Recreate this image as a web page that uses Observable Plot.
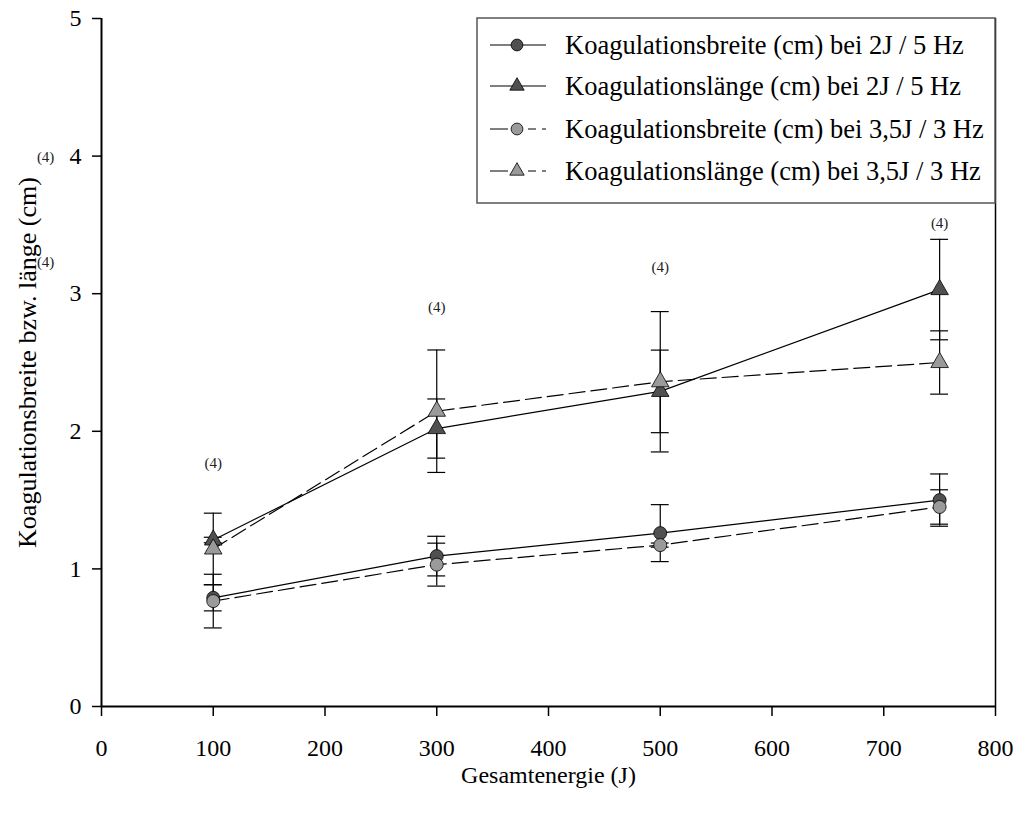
<!DOCTYPE html>
<html>
<head>
<meta charset="utf-8">
<script src="https://cdn.jsdelivr.net/npm/d3@7"></script>
<script src="https://cdn.jsdelivr.net/npm/@observablehq/plot@0.6"></script>
<style>
  html, body { margin: 0; padding: 0; background: #fff; }
  #chart { position: relative; width: 1018px; height: 819px; }
  #chart svg text { font-family: "Liberation Serif", "Times New Roman", serif; }
</style>
</head>
<body>
<div id="chart"></div>
<script>
// ---- data ----
const energies = [100, 300, 500, 750];
const breite2J = [0.79, 1.093, 1.26, 1.50];
const breite2J_err = [0.095, 0.144, 0.207, 0.19];
const laenge2J = [1.21, 2.02, 2.29, 3.03];
const laenge2J_err = [0.02, 0.215, 0.30, 0.365];
const breite35J = [0.766, 1.031, 1.173, 1.45];
const breite35J_err = [0.195, 0.156, 0.015, 0.125];
const laenge35J = [1.145, 2.146, 2.36, 2.50];
const laenge35J_err = [0.26, 0.445, 0.51, 0.23];

const seriesNames = [
  "Koagulationsbreite (cm) bei 2J / 5 Hz",
  "Koagulationslänge (cm) bei 2J / 5 Hz",
  "Koagulationsbreite (cm) bei 3,5J / 3 Hz",
  "Koagulationslänge (cm) bei 3,5J / 3 Hz"
];
const xTicks = [0, 100, 200, 300, 400, 500, 600, 700, 800];
const yTicks = [0, 1, 2, 3, 4, 5];
const nLabels = ["(4)", "(4)", "(4)", "(4)", "(4)", "(4)"];
const nLabelX = [100, 300, 500, 750, -50, -50];
const nLabelY = [1.77, 2.90, 3.19, 3.51, 3.99, 3.23];
const xLabel = "Gesamtenergie (J)";
const yLabel = "Koagulationsbreite bzw. länge (cm)";

// ---- styles per series ----
const seriesStyle = [
  {fill: "#505050", symbol: "circle", dash: null},
  {fill: "#505050", symbol: "triangle", dash: null},
  {fill: "#9a9a9a", symbol: "circle", dash: "16,6"},
  {fill: "#9a9a9a", symbol: "triangle", dash: "16,6"}
];
const values = [breite2J, laenge2J, breite35J, laenge35J];
const errs = [breite2J_err, laenge2J_err, breite35J_err, laenge35J_err];

const rows = [];
values.forEach((vals, s) => vals.forEach((v, i) => rows.push({
  s, x: energies[i], y: v, lo: v - errs[s][i], hi: v + errs[s][i]
})));
const labels = nLabels.map((t, i) => ({t, x: nLabelX[i], y: nLabelY[i]}));
const CAP = 8; // half cap width in J

const font = '"Liberation Serif", "Times New Roman", serif';
const marks = [
  Plot.axisX({ticks: xTicks, tickSize: 10, tickPadding: 22, tickFormat: d3.format("d"), label: null, stroke: "#000", strokeWidth: 1.5}),
  Plot.axisY({ticks: yTicks, tickSize: 9, tickPadding: 11, tickFormat: d3.format("d"), label: null, stroke: "#000", strokeWidth: 1.5}),
  Plot.ruleY([0], {stroke: "#000", strokeWidth: 2}),
  Plot.ruleX([0], {stroke: "#000", strokeWidth: 2}),
  Plot.ruleX([800], {stroke: "#000", strokeWidth: 1.5})
];
seriesStyle.forEach((st, s) => {
  const d = rows.filter(r => r.s === s);
  marks.push(Plot.line(d, {x: "x", y: "y", stroke: "#000", strokeWidth: 1.2, strokeDasharray: st.dash}));
});
seriesStyle.forEach((st, s) => {
  const d = rows.filter(r => r.s === s);
  marks.push(Plot.ruleX(d, {x: "x", y1: "lo", y2: "hi", stroke: "#000", strokeWidth: 1.2}));
  marks.push(Plot.ruleY(d, {y: "lo", x1: r => r.x - CAP, x2: r => r.x + CAP, stroke: "#000", strokeWidth: 1.2}));
  marks.push(Plot.ruleY(d, {y: "hi", x1: r => r.x - CAP, x2: r => r.x + CAP, stroke: "#000", strokeWidth: 1.2}));
});
seriesStyle.forEach((st, s) => {
  const d = rows.filter(r => r.s === s);
  marks.push(Plot.dot(d, {x: "x", y: "y", symbol: st.symbol, r: 6.5, fill: st.fill, stroke: "#000", strokeWidth: 0.8}));
});
marks.push(Plot.text(labels, {x: "x", y: "y", text: "t", fontSize: 15, fill: "#222", clip: false}));
marks.push(Plot.text([xLabel], {frameAnchor: "bottom", textAnchor: "middle", dy: 76, fontSize: 24, fill: "#000"}));
marks.push(Plot.text([yLabel], {frameAnchor: "left", textAnchor: "middle", dx: -74, rotate: -90, fontSize: 26, fill: "#000"}));

const chart = Plot.plot({
  width: 1018,
  height: 819,
  marginLeft: 101,
  marginRight: 23,
  marginTop: 18,
  marginBottom: 113,
  x: {domain: [0, 800]},
  y: {domain: [0, 5]},
  style: {fontFamily: font, fontSize: "20px", background: "#fff", color: "#000", overflow: "visible"},
  marks
});
document.getElementById("chart").appendChild(chart);

const svg = d3.select(chart);
svg.selectAll('g[aria-label="x-axis tick label"], g[aria-label="y-axis tick label"]')
  .attr("font-size", 24);

// ---- legend (drawn inside the svg) ----
const lg = svg.append("g").attr("text-anchor", "start");
lg.append("rect").attr("x", 477).attr("y", 18).attr("width", 518).attr("height", 185)
  .attr("fill", "#fff").attr("stroke", "#555").attr("stroke-width", 1.5);
const rowY = [45, 86, 129, 171];
seriesNames.forEach((name, i) => {
  const st = seriesStyle[i];
  const y = rowY[i];
  lg.append("line").attr("x1", 490).attr("x2", 546).attr("y1", y).attr("y2", y)
    .attr("stroke", "#000").attr("stroke-width", 1.2)
    .attr("stroke-dasharray", st.dash ? "18,6,8,6,8,6" : null);
  const sym = st.symbol === "circle" ? d3.symbolCircle : d3.symbolTriangle;
  lg.append("path").attr("d", d3.symbol(sym, st.symbol === "circle" ? 110 : 90)())
    .attr("transform", `translate(517,${y})`)
    .attr("fill", st.fill).attr("stroke", "#000").attr("stroke-width", 0.8);
  lg.append("text").attr("x", 565).attr("y", y).attr("dy", "0.35em")
    .attr("font-size", 26.5).attr("fill", "#000").text(name);
});
</script>
</body>
</html>
